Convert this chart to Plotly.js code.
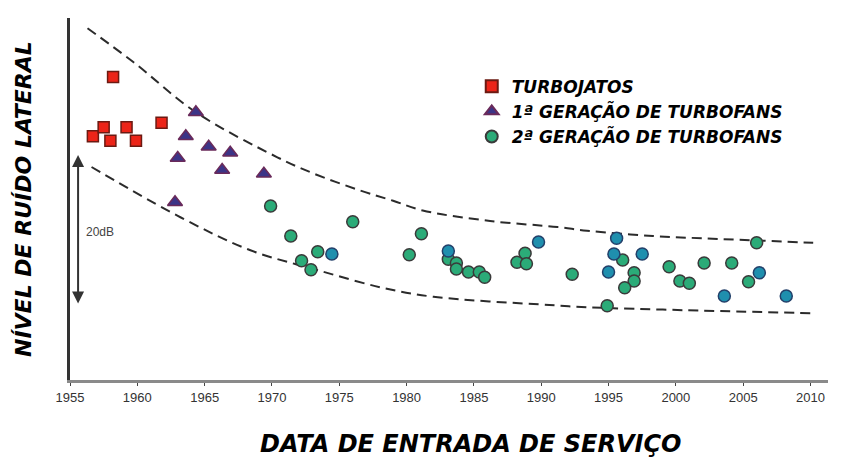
<!DOCTYPE html>
<html>
<head>
<meta charset="utf-8">
<script src="https://cdn.plot.ly/plotly-3.0.1.min.js"></script>
<style>html,body{margin:0;padding:0;background:#fff;}#chart{width:850px;height:461px;}</style>
</head>
<body>
<div id="chart"></div>
<script>
// Entry-into-service year and relative lateral noise level (dB, arbitrary baseline)
const turbojetYear = [1958.2, 1956.7, 1957.5, 1958.0, 1959.2, 1959.9, 1961.8];
const turbojetDb   = [40.4, 32.5, 33.7, 31.9, 33.7, 31.9, 34.3];

const gen1Year = [1964.35, 1963.6, 1965.3, 1966.9, 1963.0, 1966.3, 1969.4, 1962.8];
const gen1Db   = [35.7, 32.5, 31.1, 30.3, 29.6, 28.0, 27.5, 23.7];

// 2nd generation turbofans (green markers)
const gen2Year = [1969.9, 1971.4, 1976.0, 1973.4, 1972.2, 1972.9, 1981.1, 1980.2, 1983.1, 1983.7, 1983.7,
                  1984.6, 1985.4, 1985.8, 1988.8, 1988.2, 1988.9, 1992.3, 1996.05, 1996.9, 1996.9, 1996.2,
                  1994.9, 1999.5, 2000.3, 2001.0, 2002.1, 2004.15, 2006.0, 2005.4];
const gen2Db   = [23.2, 19.2, 21.1, 17.1, 15.9, 14.7, 19.5, 16.7, 16.1, 15.6, 14.8,
                  14.4, 14.4, 13.7, 16.9, 15.7, 15.5, 14.1, 16.0, 14.3, 13.2, 12.3,
                  9.9, 15.1, 13.2, 12.9, 15.6, 15.6, 18.3, 13.1];
// 2nd generation turbofans (blue markers)
const gen2bYear = [1974.45, 1983.1, 1989.8, 1995.6, 1995.4, 1997.5, 1995.0, 2006.2, 2003.6, 2008.2];
const gen2bDb   = [16.8, 17.2, 18.4, 18.9, 16.8, 16.8, 14.4, 14.3, 11.2, 11.2];

// Envelope (dashed) curves
const upperYear = [1956.3, 1959.7, 1964.35, 1970.4, 1973.0, 1976.5, 1979.0, 1981.2, 1986.2, 1991.2, 1993.4, 1998.3, 2003.3, 2010.2];
const upperDb   = [46.9, 42.4, 35.7, 29.7, 27.6, 25.3, 23.9, 22.6, 21.2, 20.4, 19.9, 19.2, 18.8, 18.3];
const lowerYear = [1956.6, 1963.2, 1968.4, 1973.3, 1978.2, 1982.0, 1990.6, 1993.4, 2000.8, 2010.2];
const lowerDb   = [28.4, 21.7, 17.3, 14.7, 12.3, 11.1, 10.0, 9.7, 9.3, 8.9];

const xTicks = [1955, 1960, 1965, 1970, 1975, 1980, 1985, 1990, 1995, 2000, 2005, 2010];
const names = ['TURBOJATOS', '1ª GERAÇÃO DE TURBOFANS', '2ª GERAÇÃO DE TURBOFANS'];

const dashLine = {color: '#2b2b2b', width: 2, dash: '10px,6px', shape: 'spline'};

const traces = [
  {x: upperYear, y: upperDb, mode: 'lines', line: dashLine, showlegend: false, hoverinfo: 'skip'},
  {x: lowerYear, y: lowerDb, mode: 'lines', line: dashLine, showlegend: false, hoverinfo: 'skip'},
  {x: turbojetYear, y: turbojetDb, mode: 'markers', name: names[0],
   marker: {symbol: 'square', size: 11, color: '#ec2418', line: {color: '#6b1a12', width: 1.5}}},
  {x: gen1Year, y: gen1Db, mode: 'markers', name: names[1],
   marker: {symbol: 'triangle-up', size: 13, color: '#3c3487', line: {color: '#6a2a5a', width: 1.5}}},
  {x: gen2Year, y: gen2Db, mode: 'markers', name: names[2], legendgroup: 'g2',
   marker: {symbol: 'circle', size: 12, color: '#2bab78', line: {color: '#3a3a3a', width: 1.5}}},
  {x: gen2bYear, y: gen2bDb, mode: 'markers', name: names[2], legendgroup: 'g2', showlegend: false,
   marker: {symbol: 'circle', size: 12, color: '#1f8fae', line: {color: '#23406a', width: 1.5}}}
];

const boldItalic = (size) => ({family: 'DejaVu Sans, Liberation Sans, Arial, sans-serif', size: size, color: '#000', weight: 'bold', style: 'italic'});

const layout = {
  width: 850, height: 461,
  margin: {l: 70, r: 22, t: 18, b: 81},
  paper_bgcolor: '#fff', plot_bgcolor: '#fff',
  xaxis: {
    range: [1955, 2011.3], tickvals: xTicks, ticktext: xTicks.map(String),
    showgrid: false, zeroline: false, showline: true, linecolor: '#8a8a8a', linewidth: 3,
    ticks: 'outside', ticklen: 3, tickwidth: 1, tickcolor: '#444',
    tickfont: {family: 'Liberation Sans, Arial, sans-serif', size: 13, color: '#333'}
  },
  yaxis: {
    range: [0, 48.27], showgrid: false, zeroline: false, showticklabels: false, ticks: '',
    showline: true, linecolor: '#333', linewidth: 3
  },
  legend: {
    x: 0.53, y: 0.86, xanchor: 'left', yanchor: 'top', bgcolor: 'rgba(0,0,0,0)',
    font: boldItalic(17), tracegroupgap: 0, itemsizing: 'constant'
  },
  annotations: [
    {x: 1955.6, y: 30, ax: 1955.6, ay: 10, axref: 'x', ayref: 'y', xref: 'x', yref: 'y',
     text: '', showarrow: true, arrowhead: 2, arrowside: 'end+start', arrowsize: 1.2, arrowwidth: 2, arrowcolor: '#333'},
    {x: 1957.25, y: 19.7, xref: 'x', yref: 'y', text: '20dB', showarrow: false,
     font: {family: 'Liberation Sans, Arial, sans-serif', size: 12, color: '#444'}},
    {x: 0.528, y: -0.177, xref: 'paper', yref: 'paper', text: 'DATA DE ENTRADA DE SERVIÇO', showarrow: false,
     xanchor: 'center', yanchor: 'middle', font: boldItalic(24)},
    {x: -0.062, y: 0.5, xref: 'paper', yref: 'paper', text: 'NÍVEL DE RUÍDO LATERAL', showarrow: false,
     textangle: -90, xanchor: 'center', yanchor: 'middle', font: boldItalic(22)}
  ]
};

Plotly.newPlot('chart', traces, layout, {displayModeBar: false, staticPlot: true});
</script>
</body>
</html>
